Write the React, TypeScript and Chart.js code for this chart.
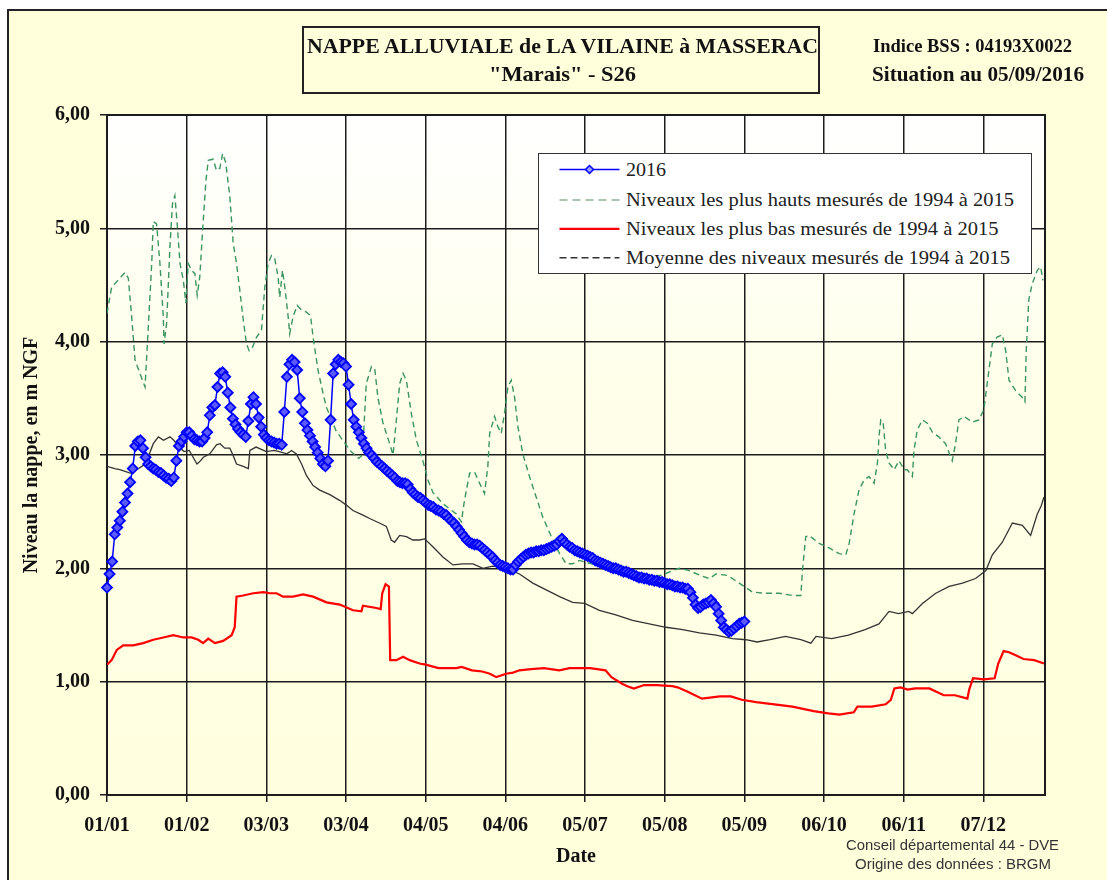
import React, { useEffect, useRef } from 'react';
import { Chart, registerables } from 'chart.js';

Chart.register(...registerables);

const SERIF = '"Liberation Serif", "Times New Roman", Times, serif';
const SANS = '"Liberation Sans", Arial, Helvetica, sans-serif';

// X axis: day of year (0 = 01/01), gridlines every 31 days
const tickDays = [0, 31, 62, 93, 124, 155, 186, 217, 248, 279, 310, 341];
const tickLabels = ['01/01', '01/02', '03/03', '03/04', '04/05', '04/06', '05/07', '05/08', '05/09', '06/10', '06/11', '07/12'];
const yTicks = [0, 1, 2, 3, 4, 5, 6];

const seriesLabels = [
  '2016',
  'Niveaux les plus hauts mesurés de 1994 à 2015',
  'Niveaux les plus bas mesurés de 1994 à 2015',
  'Moyenne des niveaux mesurés de 1994 à 2015',
];

// 2016 daily levels (index = day of year)
const level2016 = [
  1.83, 1.95, 2.06, 2.30, 2.36, 2.42, 2.50, 2.58, 2.66, 2.76,
  2.88, 3.08, 3.12, 3.13, 3.06, 2.98, 2.92, 2.90, 2.88, 2.87,
  2.85, 2.84, 2.82, 2.80, 2.79, 2.77, 2.80, 2.95, 3.08, 3.12,
  3.16, 3.20, 3.20, 3.17, 3.14, 3.13, 3.12, 3.12, 3.15, 3.20,
  3.35, 3.42, 3.44, 3.60, 3.72, 3.73, 3.69, 3.55, 3.42, 3.32,
  3.27, 3.23, 3.20, 3.18, 3.16, 3.30, 3.45, 3.51, 3.45, 3.33,
  3.25, 3.18, 3.15, 3.13, 3.12, 3.11, 3.10, 3.10, 3.09, 3.38,
  3.69, 3.80, 3.84, 3.82, 3.75, 3.50, 3.38, 3.28, 3.22, 3.17,
  3.12, 3.07, 3.02, 2.97, 2.92, 2.90, 2.95, 3.31, 3.72, 3.80,
  3.84, 3.82, 3.81, 3.78, 3.62, 3.45, 3.31, 3.25, 3.20, 3.15,
  3.10, 3.06, 3.02, 3.00, 2.97, 2.94, 2.92, 2.90, 2.88, 2.86,
  2.84, 2.82, 2.80, 2.77, 2.76, 2.75, 2.75, 2.74, 2.70, 2.67,
  2.65, 2.63, 2.62, 2.60, 2.58, 2.56, 2.55, 2.54, 2.52, 2.51,
  2.50, 2.48, 2.47, 2.44, 2.42, 2.40, 2.37, 2.34, 2.31, 2.28,
  2.25, 2.23, 2.22, 2.21, 2.21, 2.20, 2.18, 2.16, 2.14, 2.12,
  2.10, 2.07, 2.05, 2.03, 2.02, 2.01, 2.00, 1.99, 1.99, 2.03,
  2.06, 2.08, 2.10, 2.12, 2.13, 2.14, 2.14, 2.15, 2.15, 2.16,
  2.16, 2.17, 2.18, 2.19, 2.20, 2.21, 2.24, 2.26, 2.23, 2.21,
  2.19, 2.18, 2.16, 2.15, 2.14, 2.13, 2.12, 2.11, 2.10, 2.09,
  2.07, 2.06, 2.05, 2.04, 2.03, 2.02, 2.01, 2.00, 2.00, 1.99,
  1.98, 1.97, 1.97, 1.96, 1.95, 1.94, 1.93, 1.92, 1.92, 1.91,
  1.91, 1.90, 1.90, 1.89, 1.89, 1.88, 1.88, 1.87, 1.86, 1.86,
  1.85, 1.84, 1.84, 1.83, 1.83, 1.82, 1.82, 1.79, 1.74, 1.68,
  1.65, 1.66, 1.68, 1.69, 1.70, 1.72, 1.69, 1.66, 1.60, 1.54,
  1.48, 1.46, 1.44, 1.45, 1.47, 1.49, 1.51, 1.52, 1.53,
];

// Highest levels 1994-2015
const highDays = [
  0, 1.8, 3.8, 7, 8.3, 9.6, 10.9, 12.8, 14.8, 16,
  17.4, 18, 19.3, 20.6, 21.9, 22.2, 23.2, 24.5, 25.5, 26.4,
  27.3, 28.4, 29.7, 30.7, 31.6, 32.9, 34.2, 35.1, 36.1, 37.2,
  38.5, 39.4, 41.3, 42.6, 43.9, 45, 46.2, 47.8, 49.1, 50.4,
  51.7, 53.2, 54.3, 55.3, 56.6, 58.2, 60.1, 61.4, 62.7, 64,
  65.3, 66.6, 67.2, 68.3, 69.2, 70.5, 71.1, 72.4, 74, 75.7,
  77.6, 79.2, 80.2, 82.1, 84.1, 85.4, 86.7, 89, 92, 95,
  98, 99.4, 100.9, 102.9, 104.2, 105.4, 107.4, 110, 111.3, 112.6,
  113.9, 115.2, 116.5, 118.4, 120.4, 122.9, 124.9, 126.8, 130.7, 135.9,
  137.9, 139.1, 141.1, 143, 145, 146.9, 148.2, 148.9, 150.8, 152.1,
  153.4, 154.7, 156, 157.3, 158.6, 159.9, 161.8, 164.4, 167, 169.6,
  173.5, 176.1, 178.7, 181.2, 183.8, 190, 196, 203, 210, 216,
  220, 222.7, 226.6, 230.5, 234.4, 237, 240.8, 243.4, 247.3, 251.2,
  256.4, 261.6, 266.7, 270, 270.6, 271.9, 273.2, 277.1, 281, 284.9,
  287.5, 288.8, 290.7, 292.6, 294.6, 296.5, 298.5, 299.8, 300.4, 301.1,
  302, 303, 304.3, 306.3, 308.2, 310.2, 311.4, 313.4, 314, 315.3,
  317.3, 319.2, 321.2, 323.7, 326.3, 328.9, 330.2, 331.5, 333.5, 336.7,
  339.3, 341.2, 342.5, 344.5, 346.4, 348.4, 349.7, 351, 353.5, 356.1,
  357.2, 357.7, 358.7, 360, 362, 363.3, 364.2,
];
const highValues = [
  4.25, 4.48, 4.53, 4.61, 4.56, 4.22, 3.84, 3.72, 3.60, 4.10,
  4.69, 5.06, 5.04, 4.69, 4.22, 3.98, 4.16, 4.84, 5.22, 5.29,
  5.04, 4.69, 4.54, 4.34, 4.69, 4.63, 4.60, 4.41, 4.57, 4.98,
  5.42, 5.60, 5.61, 5.51, 5.53, 5.66, 5.58, 5.28, 4.87, 4.69,
  4.45, 4.16, 3.98, 3.92, 3.95, 4.04, 4.10, 4.48, 4.69, 4.76,
  4.73, 4.57, 4.39, 4.63, 4.48, 4.22, 4.07, 4.22, 4.32, 4.28,
  4.26, 4.23, 4.04, 3.75, 3.54, 3.42, 3.35, 3.22, 3.12, 3.03,
  2.97, 3.00, 3.63, 3.78, 3.76, 3.51, 3.28, 3.10, 3.00, 3.31,
  3.63, 3.72, 3.66, 3.37, 3.13, 2.95, 2.78, 2.67, 2.57, 2.48,
  2.41, 2.60, 2.84, 2.85, 2.75, 2.66, 2.90, 3.19, 3.34, 3.25,
  3.19, 3.37, 3.60, 3.66, 3.51, 3.25, 3.01, 2.81, 2.63, 2.45,
  2.25, 2.13, 2.04, 2.04, 2.07, 2.03, 1.99, 1.95, 1.92, 1.94,
  1.98, 2.00, 1.98, 1.94, 1.91, 1.95, 1.94, 1.91, 1.85, 1.79,
  1.78, 1.78, 1.76, 1.76, 1.98, 2.28, 2.29, 2.22, 2.18, 2.13,
  2.12, 2.22, 2.48, 2.69, 2.78, 2.81, 2.75, 2.93, 3.16, 3.31,
  3.29, 3.04, 2.93, 2.87, 2.95, 2.87, 2.87, 2.81, 3.04, 3.22,
  3.31, 3.28, 3.20, 3.16, 3.10, 2.95, 3.10, 3.31, 3.34, 3.29,
  3.31, 3.40, 3.63, 3.98, 4.04, 4.06, 3.92, 3.66, 3.57, 3.51,
  3.47, 3.92, 4.37, 4.51, 4.63, 4.66, 4.54,
];

// Lowest levels 1994-2015
const lowDays = [
  0, 1.8, 3.8, 6.3, 10.2, 14.1, 18, 21.9, 25.8, 29.7,
  32.9, 35.5, 37.4, 39.4, 42, 45.2, 48.5, 49.7, 50.4, 53,
  56.9, 60.8, 63.3, 66, 68.5, 72.4, 76.3, 80.2, 85.4, 90.6,
  95.7, 99, 99.6, 104.8, 106.5, 107.1, 108.4, 109.7, 110.2, 112.6,
  115.2, 117.8, 121.6, 124, 129, 135.9, 138, 142, 146, 149,
  151.5, 155.3, 158, 160.5, 165, 170, 176, 180, 185, 188,
  194, 196.3, 200.6, 202.5, 205, 209, 214, 220, 222, 226,
  231.5, 238.5, 242.8, 247, 252.6, 259.7, 266.7, 275, 280.7, 285,
  290.6, 292, 297.6, 303, 305, 306.4, 308.8, 311.6, 314.4, 320,
  325.6, 330, 334.8, 335.5, 337, 341.2, 345.4, 346.8, 348.9, 351,
  353.8, 356.6, 360.8, 364.6,
];
const lowValues = [
  1.15, 1.19, 1.28, 1.32, 1.32, 1.34, 1.37, 1.39, 1.41, 1.39,
  1.39, 1.37, 1.34, 1.38, 1.34, 1.36, 1.41, 1.48, 1.75, 1.76,
  1.78, 1.79, 1.78, 1.78, 1.75, 1.75, 1.77, 1.75, 1.70, 1.68,
  1.63, 1.62, 1.67, 1.65, 1.64, 1.78, 1.86, 1.84, 1.19, 1.19,
  1.22, 1.19, 1.16, 1.15, 1.12, 1.12, 1.13, 1.10, 1.09, 1.07,
  1.04, 1.07, 1.08, 1.10, 1.11, 1.12, 1.10, 1.12, 1.12, 1.12,
  1.10, 1.04, 0.98, 0.96, 0.94, 0.97, 0.97, 0.96, 0.95, 0.91,
  0.85, 0.87, 0.87, 0.84, 0.82, 0.80, 0.78, 0.74, 0.72, 0.71,
  0.73, 0.78, 0.78, 0.80, 0.84, 0.94, 0.95, 0.93, 0.94, 0.94,
  0.88, 0.88, 0.85, 0.93, 1.03, 1.02, 1.03, 1.16, 1.27, 1.26,
  1.23, 1.20, 1.19, 1.16,
];

// Mean levels 1994-2015
const meanDays = [
  0, 3, 5, 9, 11.5, 15, 18, 20, 22, 24.5,
  26, 28, 30, 32, 35, 36, 37.5, 40, 42.6, 44,
  45.8, 47.8, 49, 50.4, 53, 55, 55.6, 58, 62, 65,
  67, 70, 71.8, 73.7, 75.7, 77.6, 80.2, 82.8, 86.7, 90.5,
  93, 95.7, 99.6, 102.2, 106, 108.7, 110.6, 111.9, 113.9, 116.5,
  119, 121.6, 123.6, 126.8, 130.7, 134.6, 138.5, 142.4, 146.3, 150.1,
  155.3, 160.5, 165.7, 170.9, 176.1, 181.2, 185.9, 191.6, 198, 204.5,
  211, 217.5, 224, 230.5, 237, 243.4, 248.6, 253, 258, 264,
  270, 273.9, 275.9, 282, 288.5, 295, 300.4, 304.3, 308, 312,
  313.4, 317.3, 322.5, 327.7, 332.9, 338, 342, 344.5, 348.4, 352.3,
  356.2, 359.4, 362, 363.5, 364.6,
];
const meanValues = [
  2.90, 2.88, 2.87, 2.84, 2.87, 2.92, 3.10, 3.16, 3.13, 3.16,
  3.13, 3.07, 3.03, 3.04, 2.92, 2.94, 2.98, 3.01, 3.09, 3.10,
  3.06, 3.06, 3.00, 2.92, 2.90, 2.88, 3.04, 3.07, 3.03, 3.04,
  3.03, 3.01, 3.04, 3.01, 2.92, 2.82, 2.73, 2.69, 2.65, 2.60,
  2.56, 2.51, 2.47, 2.44, 2.40, 2.37, 2.25, 2.23, 2.29, 2.28,
  2.25, 2.25, 2.26, 2.19, 2.10, 2.03, 2.04, 2.04, 2.00, 2.02,
  2.00, 1.95, 1.87, 1.81, 1.75, 1.70, 1.69, 1.63, 1.59, 1.54,
  1.51, 1.48, 1.46, 1.43, 1.41, 1.38, 1.37, 1.35, 1.37, 1.40,
  1.37, 1.34, 1.40, 1.38, 1.41, 1.46, 1.51, 1.62, 1.60, 1.62,
  1.60, 1.69, 1.78, 1.84, 1.87, 1.91, 1.98, 2.12, 2.23, 2.40,
  2.38, 2.29, 2.48, 2.55, 2.63,
];

const BLUE = '#0000FF';
const MARKER_FILL = '#5A5AFF';
const GREEN = '#3A9560';
const RED = '#FF0000';
const MEAN = '#333333';
const GRID = '#1c1c1c';

const toXY = (xs: number[], ys: number[]) => xs.map((x, i) => ({ x, y: ys[i] }));

const plotFrame = {
  id: 'plotFrame',
  beforeDraw(chart: any) {
    const { ctx, chartArea } = chart;
    const { left, top, right, bottom } = chartArea;
    const g = ctx.createLinearGradient(0, top, 0, bottom);
    g.addColorStop(0, '#FFFFFF');
    g.addColorStop(0.4, '#FFFFEA');
    g.addColorStop(1, '#FFFFDF');
    ctx.save();
    ctx.fillStyle = g;
    ctx.fillRect(left, top, right - left, bottom - top);
    ctx.restore();
  },
  beforeDatasetsDraw(chart: any) {
    const { ctx, chartArea } = chart;
    const { left, top, right, bottom } = chartArea;
    ctx.save();
    ctx.strokeStyle = GRID;
    ctx.lineWidth = 2;
    ctx.strokeRect(left, top, right - left, bottom - top);
    ctx.restore();
  },
};

function Txt(props: any) {
  const { x, base, size, width, bold, sans, color, children } = props;
  const k = sans ? 0.8465 : 0.8375;
  return (
    <div
      data-fit={width}
      style={{
        position: 'absolute',
        left: x,
        top: base - k * size,
        fontSize: size,
        lineHeight: `${size}px`,
        fontFamily: sans ? SANS : SERIF,
        fontWeight: bold ? 'bold' : 'normal',
        color: color || '#111',
        whiteSpace: 'nowrap',
        transformOrigin: '0 0',
      }}
    >
      {children}
    </div>
  );
}

export default function App() {
  const canvasRef = useRef<HTMLCanvasElement>(null);
  const boxRef = useRef<HTMLDivElement>(null);

  useEffect(() => {
    const tickFont = { family: SERIF, size: 20, weight: 'bold' as const };
    const chart = new Chart(canvasRef.current as HTMLCanvasElement, {
      type: 'line',
      data: {
        datasets: [
          {
            label: seriesLabels[0],
            data: level2016.map((v, i) => ({ x: i, y: v })),
            borderColor: BLUE,
            borderWidth: 1.5,
            pointStyle: 'rectRot',
            pointRadius: 5,
            pointBorderColor: BLUE,
            pointBackgroundColor: MARKER_FILL,
            pointBorderWidth: 1.8,
            clip: false,
          } as any,
          {
            label: seriesLabels[1],
            data: toXY(highDays, highValues),
            borderColor: GREEN,
            borderWidth: 1.4,
            borderDash: [6, 4],
            pointRadius: 0,
          },
          {
            label: seriesLabels[2],
            data: toXY(lowDays, lowValues),
            borderColor: RED,
            borderWidth: 2.2,
            pointRadius: 0,
          },
          {
            label: seriesLabels[3],
            data: toXY(meanDays, meanValues),
            borderColor: MEAN,
            borderWidth: 1.3,
            pointRadius: 0,
          },
        ],
      },
      options: {
        responsive: false,
        animation: false,
        layout: { padding: { left: 7, top: 115, right: 62, bottom: 0 } },
        plugins: {
          legend: { display: false },
          tooltip: { enabled: false },
          title: { display: false },
        },
        elements: { line: { tension: 0 } },
        scales: {
          x: {
            type: 'linear',
            min: 0,
            max: 365,
            afterBuildTicks: (s: any) => {
              s.ticks = tickDays.map((v) => ({ value: v }));
            },
            afterFit: (s: any) => {
              s.height = 85;
            },
            ticks: {
              autoSkip: false,
              maxRotation: 0,
              padding: 12,
              color: '#111',
              font: tickFont,
              callback: (v: any) => {
                const i = tickDays.indexOf(Number(v));
                return i >= 0 ? tickLabels[i] : '';
              },
            },
            grid: { color: GRID, lineWidth: 1.5, tickLength: 7, drawOnChartArea: true },
            border: { display: true, color: GRID, width: 2 },
            title: {
              display: true,
              text: 'Date',
              color: '#111',
              font: tickFont,
              padding: { top: 0, bottom: 11 },
            },
          },
          y: {
            type: 'linear',
            min: 0,
            max: 6,
            afterBuildTicks: (s: any) => {
              s.ticks = yTicks.map((v) => ({ value: v }));
            },
            afterFit: (s: any) => {
              s.width = 100;
            },
            ticks: {
              padding: 10,
              color: '#111',
              font: tickFont,
              callback: (v: any) => Number(v).toFixed(2).replace('.', ','),
            },
            grid: { color: GRID, lineWidth: 1.5, tickLength: 7, drawOnChartArea: true },
            border: { display: true, color: GRID, width: 2 },
            title: {
              display: true,
              text: 'Niveau la nappe, en m NGF',
              color: '#111',
              font: tickFont,
              padding: { top: 13, bottom: 0 },
            },
          },
        },
      },
      plugins: [plotFrame],
    });

    const root = boxRef.current;
    if (root) {
      root.querySelectorAll('[data-fit]').forEach((node) => {
        const el = node as HTMLElement;
        const w = Number(el.getAttribute('data-fit'));
        const nat = el.getBoundingClientRect().width;
        if (w && nat) el.style.transform = `scaleX(${w / nat})`;
      });
    }
    return () => chart.destroy();
  }, []);

  // legend geometry (relative to legend inner box)
  const legRows = [15.5, 46, 74.8, 103.8];
  const legBase = [21.5, 52.2, 80.5, 109.5];
  const legWidths = [40, 388, 372.5, 384];

  return (
    <div
      ref={boxRef}
      style={{ position: 'fixed', left: 0, top: 0, width: 1107, height: 880, overflow: 'hidden', background: '#fff' }}
    >
      <div
        style={{
          position: 'absolute',
          left: 7,
          top: 9,
          width: 1130,
          height: 900,
          background: '#FFFFDC',
          border: '2px solid #222',
          boxSizing: 'border-box',
        }}
      />
      <canvas
        ref={canvasRef}
        width={1107}
        height={880}
        style={{ position: 'absolute', left: 0, top: 0, display: 'block' }}
      />
      <div
        style={{
          position: 'absolute',
          left: 302,
          top: 26,
          width: 518,
          height: 68,
          border: '2px solid #222',
          boxSizing: 'border-box',
        }}
      />
      <Txt x={307} base={53.3} size={21} width={511} bold>
        NAPPE ALLUVIALE de LA VILAINE à MASSERAC
      </Txt>
      <Txt x={489} base={81.7} size={21} width={147} bold>
        "Marais" - S26
      </Txt>
      <Txt x={873} base={51.7} size={18} width={199} bold>
        Indice BSS : 04193X0022
      </Txt>
      <Txt x={872} base={81.7} size={21} width={212} bold>
        Situation au 05/09/2016
      </Txt>
      <Txt x={846} base={850} size={14} width={213} sans color="#333">
        Conseil départemental 44 - DVE
      </Txt>
      <Txt x={855} base={869.3} size={14} width={196} sans color="#333">
        Origine des données : BRGM
      </Txt>

      <div
        style={{
          position: 'absolute',
          left: 538,
          top: 153,
          width: 494,
          height: 121,
          border: '1.5px solid #333',
          background: '#fff',
          boxSizing: 'border-box',
        }}
      >
        <svg width={491} height={118} style={{ position: 'absolute', left: 0, top: 0 }}>
          <line x1={20.5} y1={legRows[0]} x2={80.5} y2={legRows[0]} stroke={BLUE} strokeWidth={1.5} />
          <polygon
            points={`${50.5},${legRows[0] - 4} ${54.5},${legRows[0]} ${50.5},${legRows[0] + 4} ${46.5},${legRows[0]}`}
            fill="#9A9AFF"
            stroke={BLUE}
            strokeWidth={1.5}
          />
          <line x1={20.5} y1={legRows[1]} x2={80.5} y2={legRows[1]} stroke="#8FB09A" strokeWidth={1.4} strokeDasharray="8 5" />
          <line x1={20.5} y1={legRows[2]} x2={80.5} y2={legRows[2]} stroke={RED} strokeWidth={2.2} />
          <line x1={20.5} y1={legRows[3]} x2={80.5} y2={legRows[3]} stroke={MEAN} strokeWidth={1.4} strokeDasharray="7 4" />
        </svg>
        {seriesLabels.map((t, i) => (
          <Txt key={t} x={87} base={legBase[i]} size={19} width={legWidths[i]} color="#222">
            {t}
          </Txt>
        ))}
      </div>
    </div>
  );
}
